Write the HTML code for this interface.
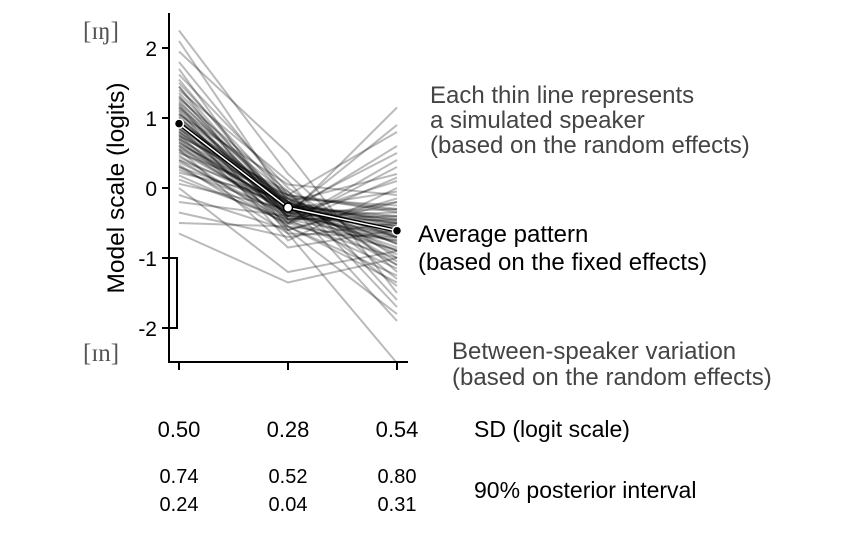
<!DOCTYPE html>
<html><head><meta charset="utf-8"><style>
body{margin:0;background:#fff;}
svg{display:block;font-family:"Liberation Sans",sans-serif;}
</style></head><body>
<svg id="chart" width="844" height="537" viewBox="0 0 844 537">
<g id="lines"></g>
<g id="avg"></g>
<g id="axes"></g>
<text x="83" y="39" font-family="Liberation Serif,serif" font-size="25" fill="#555">[ɪŋ]</text>
<text x="83" y="361" font-family="Liberation Serif,serif" font-size="25" fill="#555">[ɪn]</text>
<text transform="translate(124,188) rotate(-90)" text-anchor="middle" font-size="24.5" fill="#000">Model scale (logits)</text>
<g font-size="24" fill="#444">
<text x="430" y="103">Each thin line represents</text>
<text x="430" y="128">a simulated speaker</text>
<text x="430" y="153">(based on the random effects)</text>
</g>
<g font-size="24" fill="#000">
<text x="418" y="242">Average pattern</text>
<text x="418" y="270">(based on the fixed effects)</text>
</g>
<g font-size="24" fill="#444">
<text x="452" y="359">Between-speaker variation</text>
<text x="452" y="385">(based on the random effects)</text>
</g>
<g id="table"></g>
<text x="474" y="437" font-size="23" fill="#000">SD (logit scale)</text>
<text x="474" y="498" font-size="23" fill="#000">90% posterior interval</text>
</svg>
<script>
const categories=["a","b","c"];
const avgValues=[0.92,-0.28,-0.61];
const sdValues=["0.50","0.28","0.54"];
const upperValues=["0.74","0.52","0.80"];
const lowerValues=["0.24","0.04","0.31"];
const yTicks=[2,1,0,-1,-2];
const speakerP1=[2.25,2.1,1.95,1.8,1.7,1.62,1.55,1.5,1.45,1.4,1.36,1.32,1.28,1.25,1.22,1.18,1.15,1.12,1.1,1.07,1.05,1.02,1.0,0.98,0.96,0.94,0.92,0.9,0.88,0.86,0.84,0.82,0.8,0.78,0.76,0.74,0.72,0.7,0.68,0.65,0.62,0.6,0.57,0.55,0.52,0.5,0.47,0.44,0.4,0.37,0.33,0.3,0.26,0.22,0.18,0.12,0.06,0.0,-0.1,-0.2,-0.35,-0.5,-0.65,1.3,1.0,0.85,0.7,0.95,1.15,0.6,1.45,0.4,0.75,0.9,1.05,0.55,0.8,1.2,0.65,0.3];
const speakerP2=[0.2,-0.2,0.5,-0.1,-0.45,0.0,-0.3,-0.15,-0.6,0.1,-0.25,-0.4,-0.05,-0.35,-0.2,-0.5,-0.1,-0.3,-0.65,-0.2,0.05,-0.4,-0.25,-0.75,-0.3,-0.15,-0.45,-0.35,-0.2,-0.55,-0.1,-0.3,-0.4,-0.25,-0.6,-0.05,-0.35,-0.2,-0.5,-0.3,-0.15,-0.45,-0.25,-0.85,-0.35,-0.1,-0.55,-0.3,-0.2,-0.4,-0.65,-0.25,-0.35,-0.15,-0.5,-0.45,-0.3,-1.2,-0.6,-0.4,-0.7,-0.55,-1.35,-0.28,-0.32,-0.22,-0.38,-0.18,-0.42,-0.26,-0.34,-0.48,-0.12,-0.3,-0.24,-0.36,-0.2,-0.44,-0.28,-0.52];
const speakerP3=[-1.2,0.2,-1.5,0.8,-0.4,-1.0,0.5,-0.8,-0.2,-1.6,-0.6,0.1,-1.3,-0.3,-0.9,0.3,-1.1,-0.5,-0.7,-1.9,-0.1,-0.65,-1.4,0.0,-0.45,-1.05,-0.75,0.6,-0.55,-1.25,-0.35,-0.85,1.15,-0.6,-0.15,-1.7,-0.5,-0.95,0.4,-0.7,-0.25,-1.15,-0.4,-0.6,-0.9,-0.3,-1.35,-0.05,-0.8,-0.55,-2.5,-0.45,0.9,-0.7,-1.0,-0.2,-0.6,-0.9,-1.8,-0.35,-0.5,-0.75,-1.0,-0.58,-0.62,-0.48,-0.72,-0.52,-0.68,-0.42,-0.78,-0.88,-0.32,-0.6,-0.66,-0.54,-0.7,-0.46,-1.1,0.15];
const NS="http://www.w3.org/2000/svg";
const xPos=i=>179+i*109;
const yPos=v=>188-v*70;
function mk(tag,attrs,parent){const e=document.createElementNS(NS,tag);for(const k in attrs)e.setAttribute(k,attrs[k]);parent.appendChild(e);return e;}
const lines=document.getElementById('lines');
for(let s=0;s<speakerP1.length;s++){
  const vals=[speakerP1[s],speakerP2[s],speakerP3[s]];
  const p=mk('polyline',{points:vals.map((v,i)=>xPos(i)+','+yPos(v)).join(' '),fill:'none',stroke:'#000','stroke-opacity':0.27,'stroke-width':2},lines);
  
  
}
const avg=document.getElementById('avg');
const pts=avgValues.map((v,i)=>xPos(i)+','+yPos(v)).join(' ');
mk('polyline',{points:pts,fill:'none',stroke:'#000','stroke-width':4},avg);
const al=mk('polyline',{points:pts,fill:'none',stroke:'#fff','stroke-width':1.5},avg);


avgValues.forEach((v,i)=>{
  const c=mk('circle',{cx:xPos(i),cy:yPos(v),r:4.5,fill:i==1?'#fff':'#000',stroke:i==1?'#000':'#fff','stroke-width':1.5},avg);
  
  
});
const ax=document.getElementById('axes');
mk('line',{x1:169,y1:13,x2:169,y2:363,stroke:'#000','stroke-width':2},ax);
mk('line',{x1:168,y1:362,x2:408,y2:362,stroke:'#000','stroke-width':2},ax);
yTicks.forEach(t=>{
  mk('line',{x1:162,y1:yPos(t),x2:169,y2:yPos(t),stroke:'#000','stroke-width':2},ax);
  const tx=mk('text',{x:157,y:yPos(t)+8,'text-anchor':'end','font-size':21},ax);
  tx.textContent=t;
  
  
});
categories.forEach((c,i)=>{
  mk('line',{x1:xPos(i),y1:362,x2:xPos(i),y2:370,stroke:'#000','stroke-width':2},ax);
});
const br=mk('polyline',{points:`169,${yPos(-1)} 177,${yPos(-1)} 177,${yPos(-2)} 169,${yPos(-2)}`,fill:'none',stroke:'#000','stroke-width':2},ax);


const tb=document.getElementById('table');
categories.forEach((c,i)=>{
  const a=mk('text',{x:xPos(i),y:437,'text-anchor':'middle','font-size':22},tb);a.textContent=sdValues[i];
  
  
  const b=mk('text',{x:xPos(i),y:483,'text-anchor':'middle','font-size':20},tb);b.textContent=upperValues[i];
  
  
  const d=mk('text',{x:xPos(i),y:511,'text-anchor':'middle','font-size':20},tb);d.textContent=lowerValues[i];
  
  
});
</script>
</body></html>
